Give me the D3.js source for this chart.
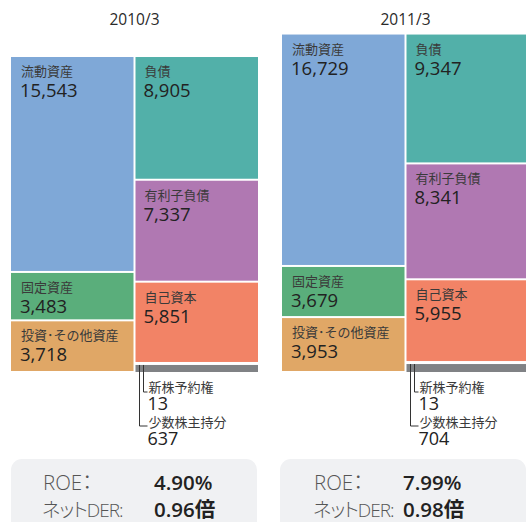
<!DOCTYPE html>
<html><head><meta charset="utf-8">
<script src="https://cdn.jsdelivr.net/npm/d3@7"></script>
<style>
body{margin:0;background:#fff;}
text{font-family:"Open Sans","Noto Sans CJK JP",sans-serif;}
.palt{font-feature-settings:"palt";}
</style></head>
<body><svg id="c" width="526" height="522"></svg>
<script>
const periods = ["2010/3", "2011/3"];
const assetNames = ["流動資産", "固定資産", "投資･その他資産"];
const assets2010 = [15543, 3483, 3718];
const assets2011 = [16729, 3679, 3953];
const liabNames = ["負債", "有利子負債", "自己資本", "新株予約権", "少数株主持分"];
const liab2010 = [8905, 7337, 5851, 13, 637];
const liab2011 = [9347, 8341, 5955, 13, 704];
const roe = ["4.90%", "7.99%"];
const der = ["0.96倍", "0.98倍"];

const assetColors = ["#7fa8d7", "#5aae7b", "#e0a766"];
const liabColors = ["#52b0a9", "#b078b2", "#f28366", "#808285", "#808285"];

const svg = d3.select("#c");
const baseY = 372;
const y = d3.scaleLinear().domain([0, d3.sum(assets2010)]).range([0, 316]);
const px = d3.scalePoint().domain(periods).range([11, 282]);
const colW = 122.5, colGap = 2;

const data = [
  {p: periods[0], a: assets2010, l: liab2010, roe: roe[0], der: der[0], vx: 154},
  {p: periods[1], a: assets2011, l: liab2011, roe: roe[1], der: der[1], vx: 403}
];

data.forEach(d => {
  const x0 = px(d.p);
  const g = svg.append("g");
  g.append("text").attr("x", x0 + colW + 1).attr("y", 25).attr("text-anchor", "middle")
    .attr("font-size", 15.5).attr("fill", "#2a2a2a").text(d.p);

  const totalA = d3.sum(d.a);
  const top = baseY - y(totalA);
  let cum = 0;
  d.a.forEach((v, i) => {
    const y0 = top + y(cum), y1 = top + y(cum + v);
    cum += v;
    g.append("rect").attr("x", x0).attr("y", y0 + 1).attr("width", colW)
      .attr("height", y1 - y0 - 2).attr("fill", assetColors[i]);
    g.append("text").attr("x", x0 + 10).attr("y", y0 + 20).attr("font-size", 13)
      .attr("fill", "#3a3a3a").text(assetNames[i]);
    g.append("text").attr("x", x0 + 9).attr("y", y0 + 41).attr("font-size", 18.5)
      .attr("fill", "#222").text(d3.format(",")(v));
  });

  const rx = x0 + colW + colGap;
  const totalL = d3.sum(d.l);
  const topL = baseY - y(totalL);
  cum = 0;
  const pos = d.l.map(v => { const s = cum; cum += v; return [topL + y(s), topL + y(cum)]; });
  for (let i = 0; i < 3; i++) {
    const [y0, y1] = pos[i];
    g.append("rect").attr("x", rx).attr("y", y0 + 1).attr("width", colW)
      .attr("height", y1 - y0 - 2).attr("fill", liabColors[i]);
    g.append("text").attr("x", rx + 9).attr("y", y0 + 20).attr("font-size", 13)
      .attr("fill", "#3a3a3a").text(liabNames[i]);
    g.append("text").attr("x", rx + 8).attr("y", y0 + 41).attr("font-size", 18.5)
      .attr("fill", "#222").text(d3.format(",")(d.l[i]));
  }
  const gy0 = pos[3][0], gy1 = pos[4][1];
  g.append("rect").attr("x", rx).attr("y", gy0 + 2).attr("width", colW)
    .attr("height", gy1 - gy0 - 2).attr("fill", liabColors[3]);
  const leaders = [
    {i: 3, lx: rx + 8, ly: 392, ty: 392},
    {i: 4, lx: rx + 4, ly: 426, ty: 427}
  ];
  leaders.forEach(L => {
    g.append("path").attr("d", `M${L.lx},${gy0 + 2}V${L.ly}H${rx + 12}`)
      .attr("fill", "none").attr("stroke", "#333").attr("stroke-width", 1);
    g.append("text").attr("x", rx + 13).attr("y", L.ty).attr("font-size", 13)
      .attr("fill", "#3a3a3a").text(liabNames[L.i]);
    g.append("text").attr("x", rx + 12).attr("y", L.ty + 18).attr("font-size", 18)
      .attr("fill", "#222").text(d3.format(",")(d.l[L.i]));
  });

  g.append("rect").attr("x", x0 - (d.p === periods[1] ? 2 : 0)).attr("y", 459)
    .attr("width", 246).attr("height", 90).attr("rx", 11).attr("fill", "#f0f1f3");
  g.append("text").attr("x", x0 + 32).attr("y", 490).attr("font-size", 20.5)
    .attr("font-weight", 300).attr("fill", "#555").attr("class", "palt").text("ROE：");
  g.append("text").attr("x", x0 + 31).attr("y", 517).attr("font-size", 19)
    .attr("font-weight", 300).attr("fill", "#555").attr("class", "palt")
    .attr("letter-spacing", -1).text("ネットDER:");
  g.append("text").attr("x", d.vx).attr("y", 490).attr("font-size", 20.5)
    .attr("font-weight", 600).attr("fill", "#222").text(d.roe);
  g.append("text").attr("x", d.vx).attr("y", 517).attr("font-size", 20.5)
    .attr("font-weight", 600).attr("fill", "#222").text(d.der);
});
</script></body></html>
